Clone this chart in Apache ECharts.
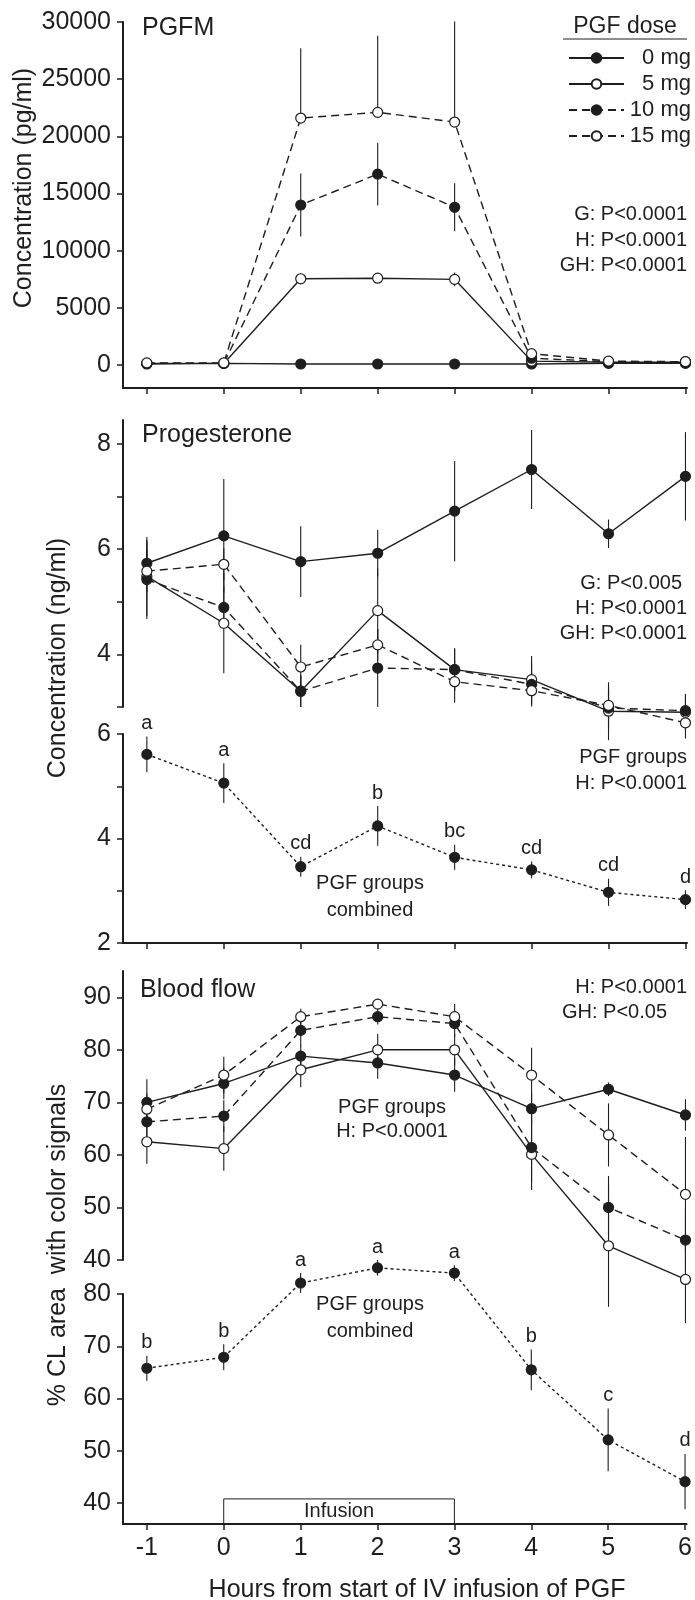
<!DOCTYPE html>
<html>
<head>
<meta charset="utf-8">
<script src="https://cdn.jsdelivr.net/npm/echarts@6/dist/echarts.min.js"></script>
<style>
  html, body { margin: 0; padding: 0; background: #fff; }
  #chart { width: 695px; height: 1600px; }
</style>
</head>
<body>
<div id="chart"></div>
<script>
const hours = [-1, 0, 1, 2, 3, 4, 5, 6]
const doses = ['0 mg', '5 mg', '10 mg', '15 mg']

// PGFM (pg/ml), means and SE
const pgfm0 = [100, 150, 100, 100, 100, 100, 150, 150]
const pgfm5 = [150, 150, 7550, 7600, 7500, 350, 250, 250]
const pgfm10 = [150, 150, 14000, 16700, 13800, 600, 300, 300]
const pgfm15 = [200, 200, 21600, 22100, 21250, 1000, 350, 300]
const pgfmSe0 = [50, 50, 50, 50, 50, 50, 50, 50]
const pgfmSe5 = [100, 100, 500, 400, 600, 200, 100, 100]
const pgfmSe10 = [100, 100, 2750, 2750, 2100, 300, 100, 100]
const pgfmSe15 = [100, 100, 6100, 6700, 8800, 400, 100, 100]

// progesterone (ng/ml)
const prog0 = [5.73, 6.25, 5.76, 5.92, 6.72, 7.51, 6.29, 7.38]
const prog5 = [5.48, 4.59, 3.30, 4.83, 3.71, 3.52, 2.92, 2.90]
const prog10 = [5.42, 4.89, 3.30, 3.74, 3.71, 3.43, 2.98, 2.93]
const prog15 = [5.58, 5.71, 3.76, 4.18, 3.48, 3.31, 3.03, 2.70]
const progSe0 = [0.40, 1.08, 0.67, 0.44, 0.95, 0.75, 0.27, 0.84]
const progSe5 = [0.75, 0.95, 0.30, 0.80, 0.40, 0.45, 0.55, 0.35]
const progSe10 = [0.75, 0.40, 0.30, 0.74, 0.40, 0.40, 0.40, 0.30]
const progSe15 = [0.40, 0.30, 0.42, 0.30, 0.40, 0.30, 0.30, 0.30]
const progAll = [5.61, 5.06, 3.46, 4.24, 3.64, 3.40, 2.97, 2.83]
const progAllSe = [0.34, 0.38, 0.19, 0.38, 0.24, 0.16, 0.26, 0.18]
const progLetters = ['a', 'a', 'cd', 'b', 'bc', 'cd', 'cd', 'd']

// blood flow (% CL area with color signals)
const flow0 = [70.0, 73.6, 78.8, 77.5, 75.2, 68.8, 72.5, 67.6]
const flow5 = [62.5, 61.2, 76.2, 80.0, 80.0, 60.1, 42.7, 36.3]
const flow10 = [66.3, 67.4, 83.7, 86.3, 85.0, 61.4, 50.0, 43.8]
const flow15 = [68.7, 75.2, 86.3, 88.7, 86.3, 75.2, 63.8, 52.5]
const flowSe0 = [4.4, 3.0, 2.0, 3.0, 3.2, 3.0, 1.3, 3.0]
const flowSe5 = [4.2, 4.2, 3.3, 3.0, 3.0, 6.8, 11.6, 8.3]
const flowSe10 = [3.5, 3.0, 3.0, 1.5, 2.5, 6.5, 6.0, 6.0]
const flowSe15 = [3.0, 3.5, 1.5, 1.0, 2.4, 5.2, 6.0, 10.9]
const flowAll = [65.8, 67.9, 82.1, 85.0, 84.0, 65.5, 52.1, 44.1]
const flowAllSe = [2.4, 2.5, 1.9, 1.5, 1.5, 3.9, 6.0, 5.3]
const flowLetters = ['b', 'b', 'a', 'a', 'a', 'b', 'c', 'd']

// infusion period (hours) and box height in the lower blood flow panel
const infusion = [0, 3]
const infusionTop = 40.8

// tick values
const pgfmTicks = [0, 5000, 10000, 15000, 20000, 25000, 30000]
const progTicks = [3, 4, 5, 6, 7, 8]
const progLabels = [4, 6, 8]
const progAllTicks = [2, 3, 4, 5, 6]
const progAllLabels = [2, 4, 6]
const flowTicks = [40, 50, 60, 70, 80, 90]
const flowAllTicks = [40, 50, 60, 70, 80]

const font = '"Liberation Sans", Arial, Helvetica, sans-serif'
const ink = '#1e1e1e'
const dash = [8, 5]
const dot = [3, 3]

const chart = echarts.init(document.getElementById('chart'))

function lineSeries(name, vals, idx, filled, type) {
  return {
    name: name,
    type: 'line',
    xAxisIndex: idx,
    yAxisIndex: idx,
    data: hours.map((h, i) => [h, vals[i]]),
    symbol: 'circle',
    symbolSize: 10,
    clip: false,
    z: 3,
    lineStyle: { color: ink, width: 1.4, type: type },
    itemStyle: { color: filled ? ink : '#fff', borderColor: ink, borderWidth: 1.2 },
    emphasis: { disabled: true }
  }
}

function errSeries(vals, se, idx, upOnly) {
  return {
    type: 'custom',
    xAxisIndex: idx,
    yAxisIndex: idx,
    z: 1,
    silent: true,
    data: hours.map((h, i) => [h, upOnly ? vals[i] : vals[i] - se[i], vals[i] + se[i]]),
    encode: { x: 0, y: [1, 2] },
    renderItem(params, api) {
      const a = api.coord([api.value(0), api.value(1)])
      const b = api.coord([api.value(0), api.value(2)])
      return {
        type: 'line',
        shape: { x1: a[0], y1: a[1], x2: b[0], y2: b[1] },
        style: { stroke: ink, lineWidth: 1.1 }
      }
    }
  }
}

function letterSeries(vals, se, letters, idx) {
  return {
    type: 'scatter',
    xAxisIndex: idx,
    yAxisIndex: idx,
    symbolSize: 0,
    clip: false,
    silent: true,
    itemStyle: { opacity: 1 },
    data: hours.map((h, i) => [h, vals[i] + se[i]]),
    label: {
      show: true,
      position: 'top',
      distance: 3,
      formatter: p => letters[p.dataIndex],
      fontSize: 20,
      fontFamily: font,
      color: ink,
      opacity: 1
    }
  }
}

function panelSet(idx, v0, v5, v10, v15, s0, s5, s10, s15, up15) {
  return [
    errSeries(v0, s0, idx), errSeries(v5, s5, idx),
    errSeries(v10, s10, idx), errSeries(v15, s15, idx, up15),
    lineSeries('0 mg', v0, idx, true, 'solid'),
    lineSeries('5 mg', v5, idx, false, 'solid'),
    lineSeries('10 mg', v10, idx, true, dash),
    lineSeries('15 mg', v15, idx, false, dash)
  ]
}

const grids = [
  { left: 123, right: 8, top: 22, height: 366 },
  { left: 123, right: 8, top: 420, height: 287 },
  { left: 123, right: 8, top: 734, height: 209 },
  { left: 123, right: 8, top: 971, height: 289 },
  { left: 123, right: 8, top: 1294, height: 230 }
]

function xAxisFor(idx, shown, labels) {
  return {
    type: 'value',
    gridIndex: idx,
    min: -1.31,
    max: 6.02,
    show: shown,
    splitLine: { show: false },
    axisLine: { show: true, onZero: false, lineStyle: { color: ink, width: 2 } },
    axisTick: { show: true, length: 6, customValues: hours, lineStyle: { color: ink, width: 1.5 } },
    axisLabel: {
      show: labels,
      customValues: hours,
      margin: 12,
      fontSize: 25,
      fontFamily: font,
      color: ink,
      formatter: v => String(v)
    }
  }
}

function yAxisFor(idx, min, max, ticks, labels) {
  return {
    type: 'value',
    gridIndex: idx,
    min: min,
    max: max,
    splitLine: { show: false },
    axisLine: { show: true, onZero: false, lineStyle: { color: ink, width: 2 } },
    axisTick: { show: true, length: 6, customValues: ticks, lineStyle: { color: ink, width: 1.5 } },
    axisLabel: {
      customValues: labels,
      margin: 12,
      fontSize: 25,
      fontFamily: font,
      color: ink,
      formatter: v => String(v)
    }
  }
}

function txt(text, x, y, align, size, rot) {
  return {
    type: 'text',
    x: x,
    y: y,
    rotation: rot || 0,
    silent: true,
    style: {
      text: text,
      fontSize: size || 20,
      fontFamily: font,
      fill: ink,
      align: align || 'center',
      verticalAlign: 'middle'
    }
  }
}

const flowAllSeries = lineSeries('PGF groups combined', flowAll, 4, true, dot)
flowAllSeries.markArea = {
  silent: true,
  itemStyle: { color: 'rgba(0,0,0,0)', borderColor: ink, borderWidth: 1 },
  label: { show: true, position: 'inside', fontSize: 20, fontFamily: font, color: ink },
  data: [[{ name: 'Infusion', xAxis: infusion[0], yAxis: 36 }, { xAxis: infusion[1], yAxis: infusionTop }]]
}

const option = {
  animation: false,
  backgroundColor: '#fff',
  grid: grids,
  xAxis: [
    xAxisFor(0, true, false),
    xAxisFor(1, false, false),
    xAxisFor(2, true, false),
    xAxisFor(3, false, false),
    xAxisFor(4, true, true)
  ],
  yAxis: [
    yAxisFor(0, -2000, 30000, pgfmTicks, pgfmTicks),
    yAxisFor(1, 3, 8.45, progTicks, progLabels),
    yAxisFor(2, 2, 6, progAllTicks, progAllLabels),
    yAxisFor(3, 40, 95, flowTicks, flowTicks),
    yAxisFor(4, 36, 80, flowAllTicks, flowAllTicks)
  ],
  legend: {
    data: doses,
    orient: 'vertical',
    left: 563,
    top: 42,
    itemWidth: 55,
    itemHeight: 12,
    itemGap: 4,
    selectedMode: false,
    formatter: n => '{r|' + n + '}',
    textStyle: {
      rich: { r: { width: 62, align: 'right', fontSize: 22, lineHeight: 22, fontFamily: font, color: ink } }
    }
  },
  series: [
    ...panelSet(0, pgfm0, pgfm5, pgfm10, pgfm15, pgfmSe0, pgfmSe5, pgfmSe10, pgfmSe15, true),
    ...panelSet(1, prog0, prog5, prog10, prog15, progSe0, progSe5, progSe10, progSe15, false),
    errSeries(progAll, progAllSe, 2),
    lineSeries('PGF groups combined', progAll, 2, true, dot),
    letterSeries(progAll, progAllSe, progLetters, 2),
    ...panelSet(3, flow0, flow5, flow10, flow15, flowSe0, flowSe5, flowSe10, flowSe15, false),
    errSeries(flowAll, flowAllSe, 4),
    flowAllSeries,
    letterSeries(flowAll, flowAllSe, flowLetters, 4)
  ],
  graphic: [
    txt('Concentration (pg/ml)', 24, 188, 'center', 25, Math.PI / 2),
    txt('Concentration (ng/ml)', 58, 658, 'center', 25, Math.PI / 2),
    txt('% CL area  with color signals', 58, 1245, 'center', 25, Math.PI / 2),
    txt('Hours from start of IV infusion of PGF', 417, 1590, 'center', 25),
    txt('PGFM', 142, 28, 'left', 25),
    txt('Progesterone', 142, 435, 'left', 25),
    txt('Blood flow', 140, 990, 'left', 25),
    txt('PGF dose', 625, 27, 'center', 23),
    { type: 'line', silent: true, shape: { x1: 563, y1: 39, x2: 687, y2: 39 }, style: { stroke: ink, lineWidth: 1.2 } },
    txt('G: P<0.0001', 687, 214, 'right'),
    txt('H: P<0.0001', 687, 240, 'right'),
    txt('GH: P<0.0001', 687, 265, 'right'),
    txt('G: P<0.005', 682, 583, 'right'),
    txt('H: P<0.0001', 687, 608, 'right'),
    txt('GH: P<0.0001', 687, 633, 'right'),
    txt('PGF groups', 687, 757, 'right'),
    txt('H: P<0.0001', 687, 783, 'right'),
    txt('PGF groups', 370, 883),
    txt('combined', 370, 910),
    txt('H: P<0.0001', 687, 987, 'right'),
    txt('GH: P<0.05', 667, 1012, 'right'),
    txt('PGF groups', 392, 1107),
    txt('H: P<0.0001', 392, 1131),
    txt('PGF groups', 370, 1304),
    txt('combined', 370, 1331)
  ]
}

chart.setOption(option)
</script>
</body>
</html>
